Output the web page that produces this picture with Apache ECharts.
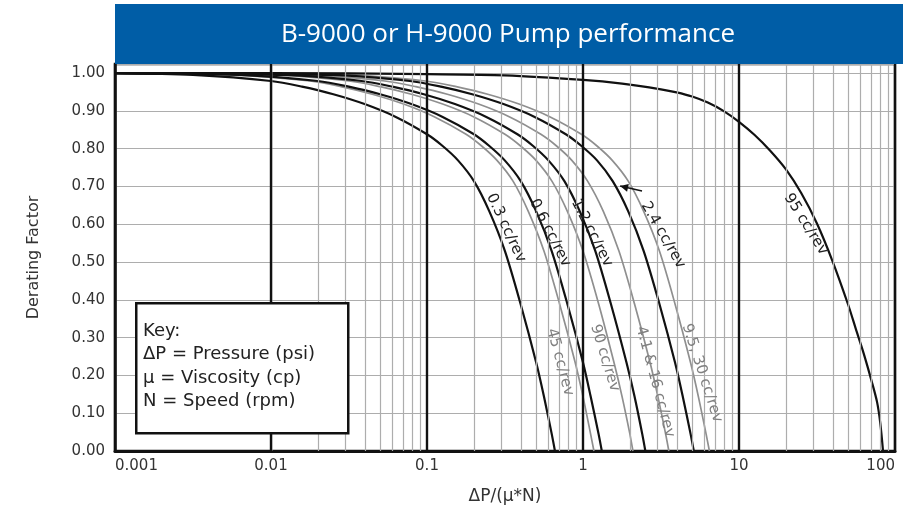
<!DOCTYPE html>
<html><head><meta charset="utf-8">
<script src="https://cdn.jsdelivr.net/npm/echarts@6/dist/echarts.min.js"></script>
<style>html,body{margin:0;padding:0;background:#fff}#c{width:903px;height:511px}</style>
</head><body><div id="c"></div>
<script>
// Derating factor values shared by the displacement curves
const Y_STD = [1.0, 0.995, 0.979, 0.964, 0.944, 0.918, 0.884, 0.838, 0.807, 0.769, 0.714, 0.634, 0.529, 0.389, 0.234, 0.144, 0.044, 0.0];
// ΔP/(μ*N) for each curve at the derating values above
const X_03  = [0.001, 0.00316, 0.01, 0.0158, 0.0251, 0.0398, 0.0631, 0.1, 0.126, 0.158, 0.2, 0.251, 0.316, 0.398, 0.501, 0.562, 0.631, 0.661];
const X_45  = [0.001, 0.00562, 0.0178, 0.0281, 0.0446, 0.0708, 0.112, 0.178, 0.224, 0.281, 0.356, 0.446, 0.562, 0.708, 0.891, 1.0, 1.12, 1.175];
const X_06  = [0.001, 0.0063, 0.02, 0.0315, 0.0501, 0.0794, 0.126, 0.2, 0.251, 0.315, 0.399, 0.501, 0.63, 0.794, 1.0, 1.12, 1.26, 1.32];
const X_90  = [0.001, 0.01, 0.0316, 0.05, 0.0794, 0.126, 0.2, 0.316, 0.398, 0.5, 0.632, 0.794, 1.0, 1.26, 1.58, 1.78, 2.0, 2.09];
const X_12  = [0.001, 0.012, 0.038, 0.06, 0.0954, 0.151, 0.24, 0.38, 0.479, 0.6, 0.76, 0.954, 1.2, 1.51, 1.90, 2.14, 2.40, 2.51];
const X_41  = [0.001, 0.017, 0.0537, 0.0848, 0.135, 0.214, 0.339, 0.537, 0.677, 0.848, 1.07, 1.35, 1.70, 2.14, 2.69, 3.02, 3.39, 3.55];
const X_24  = [0.001, 0.0245, 0.0776, 0.123, 0.195, 0.309, 0.49, 0.776, 0.978, 1.23, 1.55, 1.95, 2.45, 3.09, 3.89, 4.36, 4.90, 5.13];
const X_95S = [0.001, 0.0309, 0.0977, 0.154, 0.245, 0.389, 0.616, 0.977, 1.23, 1.54, 1.95, 2.45, 3.09, 3.89, 4.89, 5.49, 6.16, 6.46];
// 95 cc/rev curve
const X_95 = [0.001, 0.01, 0.1, 0.316, 1, 1.78, 3.16, 3.98, 5.01, 6.31, 7.94, 10, 12.6, 15.8, 20.0, 25.1, 31.6, 39.8, 50.1, 56.2, 63.1, 70.8, 76.7, 80.4, 83.8];
const Y_95 = [1.0, 1.0, 0.997, 0.994, 0.982, 0.972, 0.957, 0.949, 0.938, 0.922, 0.900, 0.871, 0.836, 0.795, 0.745, 0.682, 0.602, 0.502, 0.387, 0.322, 0.257, 0.185, 0.130, 0.075, 0.0];
// Log grid values
const MAJOR = [0.01, 0.1, 1, 10];
const MINOR = [];
[0.001, 0.01, 0.1, 1, 10].forEach(d => { for (let k = 2; k <= 9; k++) MINOR.push(+(d * k).toPrecision(3)); });
const TITLE = 'B-9000 or H-9000 Pump performance';
const KEY_LINES = ['Key:', 'ΔP = Pressure (psi)', 'μ = Viscosity (cp)', 'N = Speed (rpm)'];

const CURVES = [
  {name: '0.3 cc/rev', xs: X_03, dark: true},
  {name: '45 cc/rev', xs: X_45, dark: false},
  {name: '0.6 cc/rev', xs: X_06, dark: true},
  {name: '90 cc/rev', xs: X_90, dark: false},
  {name: '1.2 cc/rev', xs: X_12, dark: true},
  {name: '4.1 & 16 cc/rev', xs: X_41, dark: false},
  {name: '2.4 cc/rev', xs: X_24, dark: true},
  {name: '9.5, 30 cc/rev', xs: X_95S, dark: false}
];
// label anchors (data space) and rotation
const LABELS = [
  {text: '0.3 cc/rev', x: 0.321, y: 0.59, rot: -65, dark: true},
  {text: '0.6 cc/rev', x: 0.614, y: 0.577, rot: -63, dark: true},
  {text: '1.2 cc/rev', x: 1.14, y: 0.577, rot: -63, dark: true},
  {text: '2.4 cc/rev', x: 3.26, y: 0.571, rot: -60, dark: true},
  {text: '95 cc/rev', x: 26.8, y: 0.60, rot: -58, dark: true},
  {text: '45 cc/rev', x: 0.713, y: 0.235, rot: -75, dark: false},
  {text: '90 cc/rev', x: 1.38, y: 0.246, rot: -73, dark: false},
  {text: '4.1 & 16 cc/rev', x: 2.90, y: 0.183, rot: -75, dark: false},
  {text: '9.5, 30 cc/rev', x: 5.79, y: 0.206, rot: -72, dark: false}
];
const ARROW = {from: [2.39, 0.688], to: [1.73, 0.701]};

const chart = echarts.init(document.getElementById('c'), null, {renderer: 'canvas'});
const series = [];
series.push({
  type: 'line', data: X_95.map((x, i) => [x, Y_95[i]]), symbol: 'none', z: 1, silent: true,
  lineStyle: {opacity: 0}, animation: false,
  markLine: {silent: true, symbol: 'none', animation: false, label: {show: false},
    lineStyle: {color: '#adadad', width: 1.2, type: 'solid'},
    data: MINOR.map(v => ({xAxis: v})).concat(MAJOR.map(v => ({xAxis: v, lineStyle: {color: '#111', width: 2.2, type: 'solid'}})))}
});
CURVES.forEach(c => {
  series.push({
    name: c.name, type: 'line', smooth: 0.3, symbol: 'none', z: c.dark ? 4 : 3, animation: false,
    data: c.xs.map((x, i) => [x, Y_STD[i]]),
    lineStyle: {color: c.dark ? '#111' : '#8f8f8f', width: c.dark ? 2.2 : 1.7}
  });
});
series.push({
  name: '95 cc/rev', type: 'line', smooth: 0.3, symbol: 'none', z: 4, animation: false,
  data: X_95.map((x, i) => [x, Y_95[i]]),
  lineStyle: {color: '#111', width: 2.2}
});

const F = 'DejaVu Sans';
chart.setOption({
  animation: false,
  backgroundColor: '#fff',
  grid: {left: 115, right: 8, top: 64, bottom: 60, show: true, borderColor: '#111', borderWidth: 2.5, backgroundColor: 'transparent'},
  xAxis: {
    type: 'log', logBase: 10, min: 0.001, max: 100, splitNumber: 5,
    name: 'ΔP/(μ*N)', nameLocation: 'middle', nameGap: 37,
    nameTextStyle: {fontFamily: F, fontSize: 17, color: '#333'},
    axisLine: {show: true, lineStyle: {color: '#111', width: 3}},
    axisTick: {show: false},
    axisLabel: {fontFamily: F, fontSize: 15, color: '#333', margin: 8, alignMinLabel: 'left', alignMaxLabel: 'right',
      formatter: v => String(+v.toPrecision(3))},
    splitLine: {show: true, lineStyle: {color: '#111', width: 2.2}}
  },
  yAxis: {
    type: 'value', min: 0, max: 1.024, interval: 0.1,
    name: 'Derating Factor', nameLocation: 'middle', nameGap: 73,
    nameTextStyle: {fontFamily: F, fontSize: 16, color: '#333'},
    axisLine: {show: true, lineStyle: {color: '#111', width: 2.5}},
    axisTick: {show: false},
    axisLabel: {fontFamily: F, fontSize: 15, color: '#333', margin: 10,
      formatter: v => (Math.abs(v * 10 - Math.round(v * 10)) < 1e-6 ? v.toFixed(2) : '')},
    splitLine: {show: true, lineStyle: {color: '#adadad', width: 1}}
  },
  series: series
});

const g = [];
// title banner
g.push({type: 'rect', left: 115, top: 4, z: 100, shape: {width: 790, height: 60}, style: {fill: '#005da6'}});
g.push({type: 'text', x: 508, y: 35, z: 101, style: {text: TITLE, fill: '#fff', font: '26px "Open Sans"', align: 'center', verticalAlign: 'middle'}});
// key box
g.push({type: 'rect', left: 135, top: 302, z: 50, shape: {width: 212, height: 130}, style: {fill: '#fff', stroke: '#111', lineWidth: 2.5}});
KEY_LINES.forEach((t, i) => {
  g.push({type: 'text', left: 143, top: 322 + i * 23.5, z: 51, style: {text: t, fill: '#222', font: '18px "DejaVu Sans"'}});
});
LABELS.forEach(l => {
  const p = chart.convertToPixel({gridIndex: 0}, [l.x, l.y]);
  g.push({type: 'text', x: p[0], y: p[1], rotation: l.rot * Math.PI / 180, z: 20,
    style: {text: l.text, fill: l.dark ? '#222' : '#808080', font: '15px "DejaVu Sans"', align: 'center', verticalAlign: 'middle'}});
});
const a1 = chart.convertToPixel({gridIndex: 0}, ARROW.from);
const a2 = chart.convertToPixel({gridIndex: 0}, ARROW.to);
g.push({type: 'line', z: 20, shape: {x1: a1[0], y1: a1[1], x2: a2[0], y2: a2[1]}, style: {stroke: '#111', lineWidth: 1.5}});
const ang = Math.atan2(a2[1] - a1[1], a2[0] - a1[0]);
const hl = 8, hw = 4;
g.push({type: 'polygon', z: 20, shape: {points: [
  [a2[0], a2[1]],
  [a2[0] - hl * Math.cos(ang) + hw * Math.sin(ang), a2[1] - hl * Math.sin(ang) - hw * Math.cos(ang)],
  [a2[0] - hl * Math.cos(ang) - hw * Math.sin(ang), a2[1] - hl * Math.sin(ang) + hw * Math.cos(ang)]
]}, style: {fill: '#111'}});
chart.setOption({graphic: g});
</script>
</body></html>
